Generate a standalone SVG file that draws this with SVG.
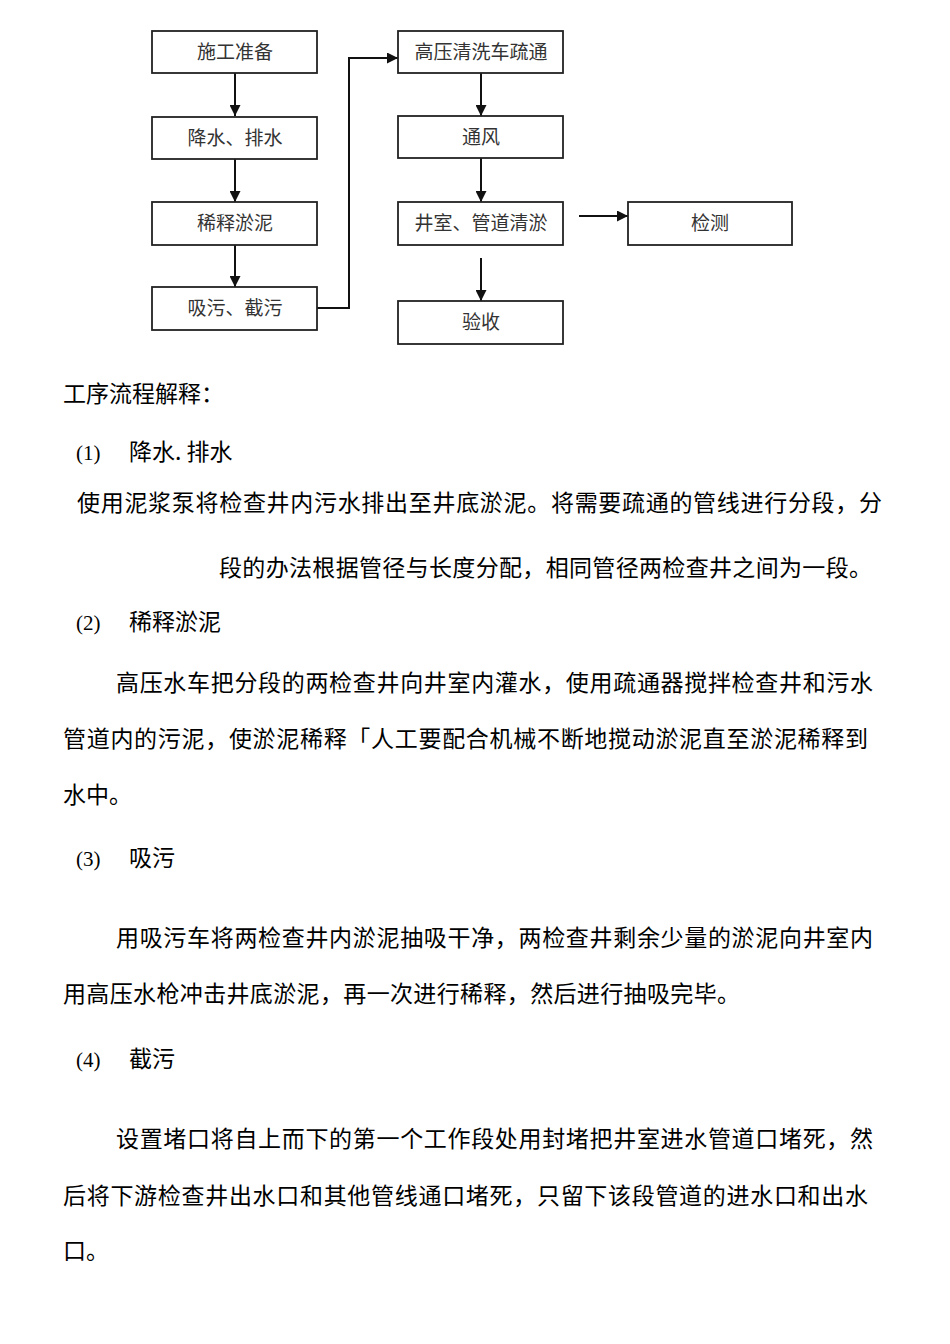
<svg xmlns="http://www.w3.org/2000/svg" width="950" height="1344" viewBox="0 0 950 1344">
<style>
.box{fill:#fff;stroke:#222;stroke-width:1.8}
.bt{font-family:"Noto Sans CJK SC","Noto Sans",sans-serif;font-size:19px;fill:#333;text-anchor:middle}
.ln{fill:none;stroke:#111;stroke-width:2}
.tx{font-family:"Noto Sans CJK SC","Noto Sans",sans-serif;font-size:23px;fill:#000}
.num{font-family:"Liberation Serif",serif;font-size:21px;fill:#000}
</style>
<defs>
<marker id="ah" viewBox="0 0 10 10" refX="10" refY="5" markerWidth="12" markerHeight="11" markerUnits="userSpaceOnUse" orient="auto">
<path d="M0,0 L10,5 L0,10 Z" fill="#111"/>
</marker>
</defs>
<rect width="950" height="1344" fill="#fff"/>
<g id="connectors">
<line class="ln" x1="235" y1="73" x2="235" y2="116" marker-end="url(#ah)"/>
<line class="ln" x1="235" y1="159" x2="235" y2="202" marker-end="url(#ah)"/>
<line class="ln" x1="235" y1="245" x2="235" y2="287" marker-end="url(#ah)"/>
<path class="ln" d="M317,308 H349 V58 H398" marker-end="url(#ah)"/>
<line class="ln" x1="481" y1="73" x2="481" y2="116" marker-end="url(#ah)"/>
<line class="ln" x1="481" y1="158" x2="481" y2="202" marker-end="url(#ah)"/>
<line class="ln" x1="481" y1="258" x2="481" y2="301" marker-end="url(#ah)"/>
<line class="ln" x1="579" y1="216" x2="628" y2="216" marker-end="url(#ah)"/>
</g>
<g id="n1"><rect class="box" x="152" y="31" width="165" height="42"/><text class="bt" x="235" y="59">施工准备</text></g>
<g id="n2"><rect class="box" x="152" y="117" width="165" height="42"/><text class="bt" x="235" y="145">降水、排水</text></g>
<g id="n3"><rect class="box" x="152" y="202" width="165" height="43"/><text class="bt" x="235" y="230">稀释淤泥</text></g>
<g id="n4"><rect class="box" x="152" y="287" width="165" height="43"/><text class="bt" x="235" y="315">吸污、截污</text></g>
<g id="n5"><rect class="box" x="398" y="31" width="165" height="42"/><text class="bt" x="481" y="59">高压清洗车疏通</text></g>
<g id="n6"><rect class="box" x="398" y="116" width="165" height="42"/><text class="bt" x="481" y="144">通风</text></g>
<g id="n7"><rect class="box" x="398" y="202" width="165" height="43"/><text class="bt" x="481" y="230">井室、管道清淤</text></g>
<g id="n8"><rect class="box" x="628" y="202" width="164" height="43"/><text class="bt" x="710" y="230">检测</text></g>
<g id="n9"><rect class="box" x="398" y="301" width="165" height="43"/><text class="bt" x="481" y="329">验收</text></g>
<g id="body">
<text class="tx" x="63" y="402">工序流程解释：</text>
<text class="num" x="76" y="460">(1)</text><text class="tx" x="129" y="460">降水. 排水</text>
<text class="tx" x="77" y="511" textLength="805" lengthAdjust="spacing">使用泥浆泵将检查井内污水排出至井底淤泥。将需要疏通的管线进行分段，分</text>
<text class="tx" x="219" y="576" textLength="653" lengthAdjust="spacing">段的办法根据管径与长度分配，相同管径两检查井之间为一段。</text>
<text class="num" x="76" y="630">(2)</text><text class="tx" x="129" y="630">稀释淤泥</text>
<text class="tx" x="116" y="691" textLength="757" lengthAdjust="spacing">高压水车把分段的两检查井向井室内灌水，使用疏通器搅拌检查井和污水</text>
<text class="tx" x="63" y="747" textLength="805" lengthAdjust="spacing">管道内的污泥，使淤泥稀释「人工要配合机械不断地搅动淤泥直至淤泥稀释到</text>
<text class="tx" x="63" y="803">水中。</text>
<text class="num" x="76" y="866">(3)</text><text class="tx" x="129" y="866">吸污</text>
<text class="tx" x="116" y="946" textLength="757" lengthAdjust="spacing">用吸污车将两检查井内淤泥抽吸干净，两检查井剩余少量的淤泥向井室内</text>
<text class="tx" x="63" y="1002" textLength="677" lengthAdjust="spacing">用高压水枪冲击井底淤泥，再一次进行稀释，然后进行抽吸完毕。</text>
<text class="num" x="76" y="1067">(4)</text><text class="tx" x="129" y="1067">截污</text>
<text class="tx" x="116" y="1147" textLength="757" lengthAdjust="spacing">设置堵口将自上而下的第一个工作段处用封堵把井室进水管道口堵死，然</text>
<text class="tx" x="63" y="1204" textLength="805" lengthAdjust="spacing">后将下游检查井出水口和其他管线通口堵死，只留下该段管道的进水口和出水</text>
<text class="tx" x="63" y="1259">口。</text>
</g>
</svg>
